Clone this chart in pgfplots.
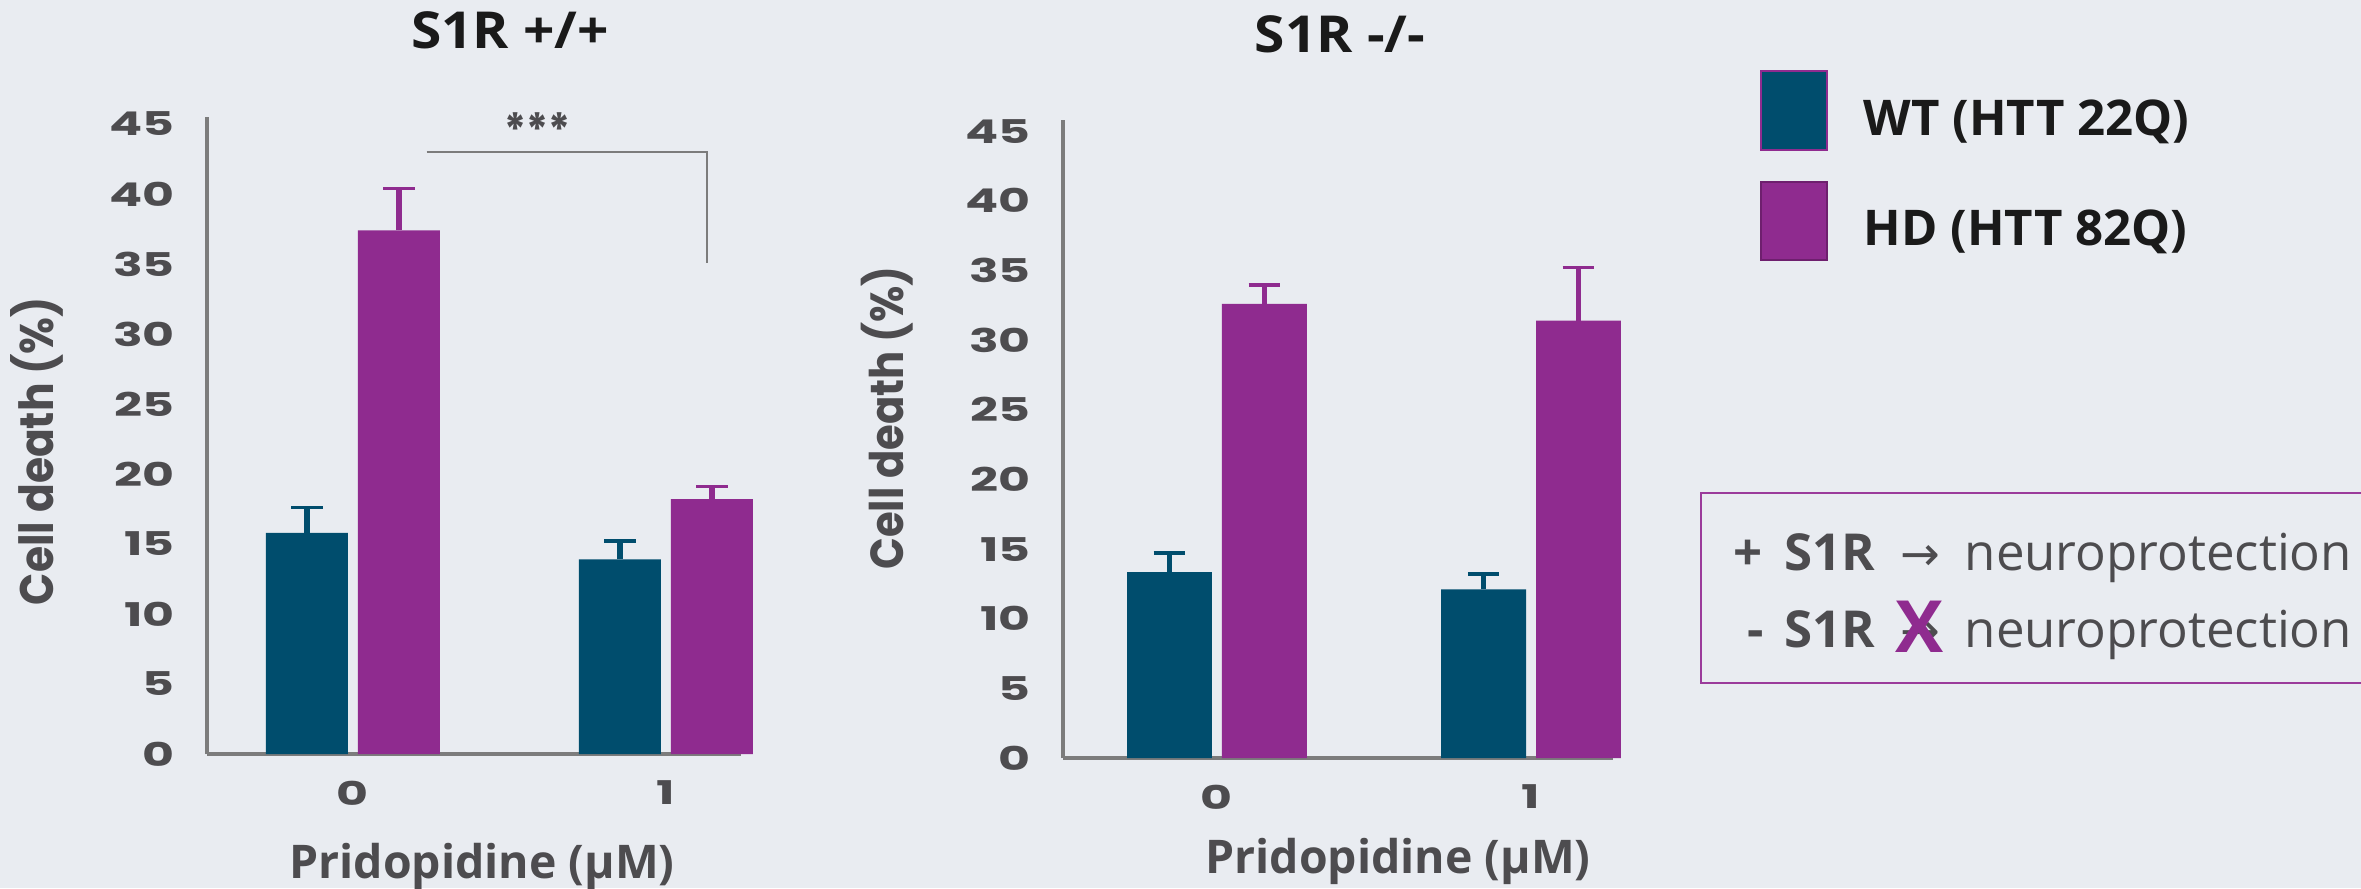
\documentclass[border=0pt]{standalone}
\usepackage{fontspec}
\usepackage{pgfplots}
\pgfplotsset{compat=1.18}
\setmainfont{Open Sans}
\newfontfamily\tickfont[FakeStretch=1.5]{Poppins}
\newfontfamily\popfont[FakeStretch=0.9]{Poppins}
\newfontfamily\titlefont[FakeStretch=1.08]{Open Sans}
\newfontfamily\djv{DejaVu Sans}
\definecolor{bg}{HTML}{E9ECF1}
\definecolor{wt}{HTML}{004D6D}
\definecolor{hd}{HTML}{8F2B8F}
\definecolor{hddark}{HTML}{6E1F6E}
\definecolor{axisgray}{HTML}{7C7C7C}
\definecolor{txtgray}{HTML}{4D4C4F}
\definecolor{titleblack}{HTML}{1A1A1A}
\definecolor{boxpurple}{HTML}{9B3B9B}

\pgfplotsset{
  panel/.style={
    scale only axis,
    axis lines*=left,
    axis line style={draw=axisgray, line width=1.3pt},
    major tick length=0pt,
    ymin=0,
    ytick={0,5,...,45},
    xtick={0,1},
    xticklabels={0,1},
    /pgf/number format/assume math mode=true,
    yticklabel style={font=\tickfont\bfseries\fontsize{9.3}{9.3}\selectfont, text=txtgray, anchor=east, inner sep=0pt, xshift=-9pt},
    xticklabel style={font=\tickfont\bfseries\fontsize{9.3}{9.3}\selectfont, text=txtgray, anchor=north, inner sep=0pt, yshift=-7.4pt},
    ybar,
    clip=false,
  },
  wtbar/.style={fill=wt, draw=none,
    error bars/y dir=plus, error bars/y explicit,
    error bars/error bar style={draw=wt, line width=1.6pt},
    error bars/error mark options={rotate=90, draw=wt, line width=1pt, mark size=4.5pt}},
  hdbar/.style={fill=hd, draw=none,
    error bars/y dir=plus, error bars/y explicit,
    error bars/error bar style={draw=hd, line width=1.6pt},
    error bars/error mark options={rotate=90, draw=hd, line width=1pt, mark size=4.5pt}},
}

\begin{document}
\begin{tikzpicture}
\path[use as bounding box, fill=bg] (0,0) rectangle (23.61,8.88);

% ---------- left panel: S1R +/+ ----------
\begin{axis}[panel,
  at={(2.07cm,1.34cm)}, anchor=south west,
  width=5.34cm, height=6.37cm,
  xmin=-0.466, xmax=1.240, ymax=45.5,
  bar width=0.262]
\addplot[bar shift=-0.147, wtbar] coordinates {(0,15.8) +- (0,1.8) (1,13.9) +- (0,1.3)};
\addplot[bar shift=0.147, hdbar] coordinates {(0,37.4) +- (0,3.0) (1,18.2) +- (0,0.9)};
\draw[axisgray, line width=0.6pt] (axis cs:0.236,43.0) -- (axis cs:1.131,43.0) -- (axis cs:1.131,35.1);
\node[text=txtgray, font=\popfont\bfseries\fontsize{13}{13}\selectfont] at (axis cs:0.591,44.6) {***};
\end{axis}

% ---------- right panel: S1R -/- ----------
\begin{axis}[panel,
  at={(10.63cm,1.30cm)}, anchor=south west,
  width=5.50cm, height=6.38cm,
  xmin=-0.490, xmax=1.261, ymax=45.8,
  bar width=0.27]
\addplot[bar shift=-0.151, wtbar] coordinates {(0,13.35) +- (0,1.35) (1,12.1) +- (0,1.1)};
\addplot[bar shift=0.151, hdbar] coordinates {(0,32.6) +- (0,1.35) (1,31.4) +- (0,3.8)};
\end{axis}

% titles
\node[anchor=base, inner sep=0pt, text=titleblack, font=\titlefont\bfseries\fontsize{14.5}{14.5}\selectfont] at (5.10,8.40) {S1R +/+};
\node[anchor=base, inner sep=0pt, text=titleblack, font=\titlefont\bfseries\fontsize{14.5}{14.5}\selectfont] at (13.40,8.36) {S1R -/-};

% y labels
\node[rotate=90, anchor=base, inner sep=0pt, text=txtgray, font=\popfont\bfseries\fontsize{13.4}{13.4}\selectfont] at (0.53,4.37) {Cell death (\%)};
\node[rotate=90, anchor=base, inner sep=0pt, text=txtgray, font=\popfont\bfseries\fontsize{13.2}{13.2}\selectfont] at (9.03,4.70) {Cell death (\%)};

% x labels
\node[anchor=base, inner sep=0pt, text=txtgray, font=\bfseries\fontsize{13.2}{13.2}\selectfont] at (4.82,0.10) {Pridopidine (µM)};
\node[anchor=base, inner sep=0pt, text=txtgray, font=\bfseries\fontsize{13.2}{13.2}\selectfont] at (13.98,0.15) {Pridopidine (µM)};

% legend
\draw[fill=wt, draw=hd, line width=0.4pt] (17.61,7.38) rectangle (18.27,8.17);
\draw[fill=hd, draw=hddark, line width=0.6pt] (17.61,6.28) rectangle (18.27,7.06);
\node[anchor=base west, inner sep=0pt, text=titleblack, font=\bfseries\fontsize{14}{14}\selectfont] at (18.63,7.53) {WT (HTT 22Q)};
\node[anchor=base west, inner sep=0pt, text=titleblack, font=\bfseries\fontsize{14}{14}\selectfont] at (18.63,6.43) {HD (HTT 82Q)};

% info box
\draw[boxpurple, line width=0.7pt] (17.01,2.05) rectangle (23.75,3.95);
\node[anchor=base, inner sep=0pt, text=txtgray, font=\bfseries\fontsize{14.5}{14.5}\selectfont] at (17.48,3.18) {+};
\node[anchor=base west, inner sep=0pt, text=txtgray, font=\bfseries\fontsize{14.5}{14.5}\selectfont] at (17.84,3.18) {S1R};
\node[anchor=base, inner sep=0pt, text=txtgray, font=\djv\fontsize{13.5}{13.5}\selectfont] at (19.20,3.18) {→};
\node[anchor=base west, inner sep=0pt, text=txtgray, font=\fontsize{14.5}{14.5}\selectfont] at (19.64,3.18) {neuroprotection};
\node[anchor=base, inner sep=0pt, text=txtgray, font=\bfseries\fontsize{14.5}{14.5}\selectfont] at (17.56,2.41) {-};
\node[anchor=base west, inner sep=0pt, text=txtgray, font=\bfseries\fontsize{14.5}{14.5}\selectfont] at (17.84,2.41) {S1R};
\node[anchor=base, inner sep=0pt, text=txtgray, font=\djv\fontsize{13.5}{13.5}\selectfont] at (19.20,2.41) {→};
\node[anchor=base west, inner sep=0pt, text=txtgray, font=\fontsize{14.5}{14.5}\selectfont] at (19.64,2.41) {neuroprotection};
\node[inner sep=0pt, text=hd, font=\bfseries\fontsize{20.5}{20.5}\selectfont] at (19.20,2.61) {X};
\end{tikzpicture}
\end{document}
